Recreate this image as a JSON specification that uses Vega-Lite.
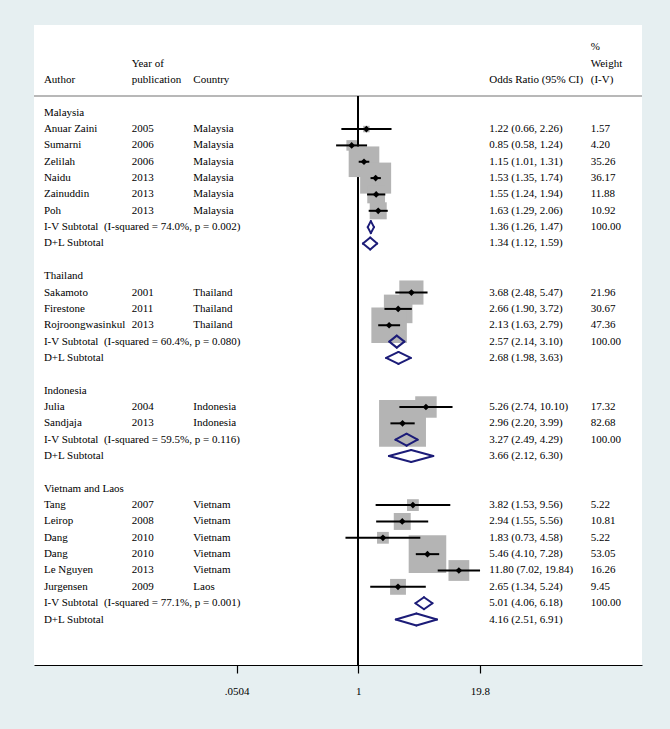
{
  "$schema": "https://vega.github.io/schema/vega-lite/v6.json",
  "width": 608,
  "height": 640,
  "autosize": "none",
  "padding": {"left": 34, "top": 25, "right": 28, "bottom": 64},
  "background": "#e6eff1",
  "data": {"values": [
    {"row": -4, "c5": "%"},
    {"row": -3, "c2": "Year of", "c5": "Weight"},
    {"row": -2, "c1": "Author", "c2": "publication", "c3": "Country", "c4": "Odds Ratio (95% CI)", "c5": "(I-V)"},
    {"row": 0, "type": "group", "c1": "Malaysia"},
    {"row": 1, "type": "study", "c1": "Anuar Zaini", "c2": "2005", "c3": "Malaysia", "or": 1.22, "lo": 0.66, "hi": 2.26, "w": 1.57, "c4": "1.22 (0.66, 2.26)", "c5": "1.57"},
    {"row": 2, "type": "study", "c1": "Sumarni", "c2": "2006", "c3": "Malaysia", "or": 0.85, "lo": 0.58, "hi": 1.24, "w": 4.20, "c4": "0.85 (0.58, 1.24)", "c5": "4.20"},
    {"row": 3, "type": "study", "c1": "Zelilah", "c2": "2006", "c3": "Malaysia", "or": 1.15, "lo": 1.01, "hi": 1.31, "w": 35.26, "c4": "1.15 (1.01, 1.31)", "c5": "35.26"},
    {"row": 4, "type": "study", "c1": "Naidu", "c2": "2013", "c3": "Malaysia", "or": 1.53, "lo": 1.35, "hi": 1.74, "w": 36.17, "c4": "1.53 (1.35, 1.74)", "c5": "36.17"},
    {"row": 5, "type": "study", "c1": "Zainuddin", "c2": "2013", "c3": "Malaysia", "or": 1.55, "lo": 1.24, "hi": 1.94, "w": 11.88, "c4": "1.55 (1.24, 1.94)", "c5": "11.88"},
    {"row": 6, "type": "study", "c1": "Poh", "c2": "2013", "c3": "Malaysia", "or": 1.63, "lo": 1.29, "hi": 2.06, "w": 10.92, "c4": "1.63 (1.29, 2.06)", "c5": "10.92"},
    {"row": 7, "type": "iv", "c1": "I-V Subtotal\u00a0 (I-squared = 74.0%, p = 0.002)", "or": 1.36, "lo": 1.26, "hi": 1.47, "c4": "1.36 (1.26, 1.47)", "c5": "100.00"},
    {"row": 8, "type": "dl", "c1": "D+L Subtotal", "or": 1.34, "lo": 1.12, "hi": 1.59, "c4": "1.34 (1.12, 1.59)"},
    {"row": 10, "type": "group", "c1": "Thailand"},
    {"row": 11, "type": "study", "c1": "Sakamoto", "c2": "2001", "c3": "Thailand", "or": 3.68, "lo": 2.48, "hi": 5.47, "w": 21.96, "c4": "3.68 (2.48, 5.47)", "c5": "21.96"},
    {"row": 12, "type": "study", "c1": "Firestone", "c2": "2011", "c3": "Thailand", "or": 2.66, "lo": 1.90, "hi": 3.72, "w": 30.67, "c4": "2.66 (1.90, 3.72)", "c5": "30.67"},
    {"row": 13, "type": "study", "c1": "Rojroongwasinkul", "c2": "2013", "c3": "Thailand", "or": 2.13, "lo": 1.63, "hi": 2.79, "w": 47.36, "c4": "2.13 (1.63, 2.79)", "c5": "47.36"},
    {"row": 14, "type": "iv", "c1": "I-V Subtotal\u00a0 (I-squared = 60.4%, p = 0.080)", "or": 2.57, "lo": 2.14, "hi": 3.10, "c4": "2.57 (2.14, 3.10)", "c5": "100.00"},
    {"row": 15, "type": "dl", "c1": "D+L Subtotal", "or": 2.68, "lo": 1.98, "hi": 3.63, "c4": "2.68 (1.98, 3.63)"},
    {"row": 17, "type": "group", "c1": "Indonesia"},
    {"row": 18, "type": "study", "c1": "Julia", "c2": "2004", "c3": "Indonesia", "or": 5.26, "lo": 2.74, "hi": 10.10, "w": 17.32, "c4": "5.26 (2.74, 10.10)", "c5": "17.32"},
    {"row": 19, "type": "study", "c1": "Sandjaja", "c2": "2013", "c3": "Indonesia", "or": 2.96, "lo": 2.20, "hi": 3.99, "w": 82.68, "c4": "2.96 (2.20, 3.99)", "c5": "82.68"},
    {"row": 20, "type": "iv", "c1": "I-V Subtotal\u00a0 (I-squared = 59.5%, p = 0.116)", "or": 3.27, "lo": 2.49, "hi": 4.29, "c4": "3.27 (2.49, 4.29)", "c5": "100.00"},
    {"row": 21, "type": "dl", "c1": "D+L Subtotal", "or": 3.66, "lo": 2.12, "hi": 6.30, "c4": "3.66 (2.12, 6.30)"},
    {"row": 23, "type": "group", "c1": "Vietnam and Laos"},
    {"row": 24, "type": "study", "c1": "Tang", "c2": "2007", "c3": "Vietnam", "or": 3.82, "lo": 1.53, "hi": 9.56, "w": 5.22, "c4": "3.82 (1.53, 9.56)", "c5": "5.22"},
    {"row": 25, "type": "study", "c1": "Leirop", "c2": "2008", "c3": "Vietnam", "or": 2.94, "lo": 1.55, "hi": 5.56, "w": 10.81, "c4": "2.94 (1.55, 5.56)", "c5": "10.81"},
    {"row": 26, "type": "study", "c1": "Dang", "c2": "2010", "c3": "Vietnam", "or": 1.83, "lo": 0.73, "hi": 4.58, "w": 5.22, "c4": "1.83 (0.73, 4.58)", "c5": "5.22"},
    {"row": 27, "type": "study", "c1": "Dang", "c2": "2010", "c3": "Vietnam", "or": 5.46, "lo": 4.10, "hi": 7.28, "w": 53.05, "c4": "5.46 (4.10, 7.28)", "c5": "53.05"},
    {"row": 28, "type": "study", "c1": "Le Nguyen", "c2": "2013", "c3": "Vietnam", "or": 11.80, "lo": 7.02, "hi": 19.84, "w": 16.26, "c4": "11.80 (7.02, 19.84)", "c5": "16.26"},
    {"row": 29, "type": "study", "c1": "Jurgensen", "c2": "2009", "c3": "Laos", "or": 2.65, "lo": 1.34, "hi": 5.24, "w": 9.45, "c4": "2.65 (1.34, 5.24)", "c5": "9.45"},
    {"row": 30, "type": "iv", "c1": "I-V Subtotal\u00a0 (I-squared = 77.1%, p = 0.001)", "or": 5.01, "lo": 4.06, "hi": 6.18, "c4": "5.01 (4.06, 6.18)", "c5": "100.00"},
    {"row": 31, "type": "dl", "c1": "D+L Subtotal", "or": 4.16, "lo": 2.51, "hi": 6.91, "c4": "4.16 (2.51, 6.91)"}
  ]},
  "layer": [
    {
      "mark": {"type": "rule", "color": "#b8b8b8", "strokeWidth": 1.5},
      "encoding": {
        "y": {"datum": -1, "type": "quantitative", "scale": {"domain": [-5.364, 33.78], "reverse": true, "nice": false, "zero": false}, "axis": null}
      }
    },
    {
      "transform": [{"filter": "datum.type === 'study'"}],
      "mark": {"type": "rule", "color": "black", "strokeWidth": 1.3},
      "encoding": {
        "x": {"datum": 1, "type": "quantitative", "scale": {"type": "log", "domain": [0.0003497, 1055.8], "nice": false}, "title": null,
              "axis": {"values": [0.0504, 1, 19.8], "labelExpr": "datum.value < 0.5 ? '.0504' : datum.value < 2 ? '1' : '19.8'", "title": null}},
        "y": {"datum": -1, "type": "quantitative", "axis": null},
        "y2": {"datum": 33.78}
      }
    },
    {
      "transform": [{"filter": "datum.type === 'study'"}],
      "mark": {"type": "point", "shape": "square", "filled": true, "color": "#b4b4b4", "opacity": 1},
      "encoding": {
        "x": {"field": "or", "type": "quantitative", "title": null},
        "y": {"field": "row", "type": "quantitative", "axis": null},
        "size": {"field": "w", "type": "quantitative", "scale": {"domain": [0, 100], "range": [0, 2660], "zero": true}, "legend": null}
      }
    },
    {
      "transform": [{"filter": "datum.type === 'study'"}],
      "mark": {"type": "rule", "color": "black", "strokeWidth": 2},
      "encoding": {
        "x": {"field": "lo", "type": "quantitative", "title": null},
        "x2": {"field": "hi"},
        "y": {"field": "row", "type": "quantitative", "axis": null}
      }
    },
    {
      "transform": [{"filter": "datum.type === 'study'"}],
      "mark": {"type": "point", "shape": "diamond", "filled": true, "color": "black", "size": 45, "opacity": 1},
      "encoding": {
        "x": {"field": "or", "type": "quantitative", "title": null},
        "y": {"field": "row", "type": "quantitative", "axis": null}
      }
    },
    {
      "transform": [{"filter": "datum.type === 'iv' || datum.type === 'dl'"}],
      "mark": {"type": "rule", "color": "#1c1c78", "strokeWidth": 2, "strokeCap": "round", "y2Offset": -6},
      "encoding": {
        "x": {"field": "lo", "type": "quantitative", "title": null},
        "x2": {"field": "or"},
        "y": {"field": "row", "type": "quantitative", "axis": null},
        "y2": {"field": "row"}
      }
    },
    {
      "transform": [{"filter": "datum.type === 'iv' || datum.type === 'dl'"}],
      "mark": {"type": "rule", "color": "#1c1c78", "strokeWidth": 2, "strokeCap": "round", "yOffset": -6},
      "encoding": {
        "x": {"field": "or", "type": "quantitative", "title": null},
        "x2": {"field": "hi"},
        "y": {"field": "row", "type": "quantitative", "axis": null},
        "y2": {"field": "row"}
      }
    },
    {
      "transform": [{"filter": "datum.type === 'iv' || datum.type === 'dl'"}],
      "mark": {"type": "rule", "color": "#1c1c78", "strokeWidth": 2, "strokeCap": "round", "y2Offset": 6},
      "encoding": {
        "x": {"field": "lo", "type": "quantitative", "title": null},
        "x2": {"field": "or"},
        "y": {"field": "row", "type": "quantitative", "axis": null},
        "y2": {"field": "row"}
      }
    },
    {
      "transform": [{"filter": "datum.type === 'iv' || datum.type === 'dl'"}],
      "mark": {"type": "rule", "color": "#1c1c78", "strokeWidth": 2, "strokeCap": "round", "yOffset": 6},
      "encoding": {
        "x": {"field": "or", "type": "quantitative", "title": null},
        "x2": {"field": "hi"},
        "y": {"field": "row", "type": "quantitative", "axis": null},
        "y2": {"field": "row"}
      }
    },
    {
      "transform": [{"filter": "isValid(datum.c1)"}],
      "mark": {"type": "text", "align": "left", "baseline": "middle"},
      "encoding": {
        "x": {"datum": 0.000446, "type": "quantitative", "title": null},
        "y": {"field": "row", "type": "quantitative", "axis": null},
        "text": {"field": "c1"}
      }
    },
    {
      "transform": [{"filter": "isValid(datum.c2)"}],
      "mark": {"type": "text", "align": "left", "baseline": "middle"},
      "encoding": {
        "x": {"datum": 0.00384, "type": "quantitative", "title": null},
        "y": {"field": "row", "type": "quantitative", "axis": null},
        "text": {"field": "c2"}
      }
    },
    {
      "transform": [{"filter": "isValid(datum.c3)"}],
      "mark": {"type": "text", "align": "left", "baseline": "middle"},
      "encoding": {
        "x": {"datum": 0.01744, "type": "quantitative", "title": null},
        "y": {"field": "row", "type": "quantitative", "axis": null},
        "text": {"field": "c3"}
      }
    },
    {
      "transform": [{"filter": "isValid(datum.c4)"}],
      "mark": {"type": "text", "align": "left", "baseline": "middle"},
      "encoding": {
        "x": {"datum": 24.9, "type": "quantitative", "title": null},
        "y": {"field": "row", "type": "quantitative", "axis": null},
        "text": {"field": "c4"}
      }
    },
    {
      "transform": [{"filter": "isValid(datum.c5)"}],
      "mark": {"type": "text", "align": "left", "baseline": "middle"},
      "encoding": {
        "x": {"datum": 300, "type": "quantitative", "title": null},
        "y": {"field": "row", "type": "quantitative", "axis": null},
        "text": {"field": "c5"}
      }
    }
  ],
  "config": {
    "view": {"stroke": null, "fill": "white"},
    "axisX": {"grid": false, "domainColor": "black", "domainWidth": 1, "tickColor": "black", "tickSize": 8, "tickWidth": 1.2,
              "labelFont": "Liberation Serif", "labelFontSize": 11, "labelColor": "black", "labelPadding": 12, "labelFlush": false, "labelOverlap": false},
    "text": {"font": "Liberation Serif", "fontSize": 11, "color": "black"}
  }
}
